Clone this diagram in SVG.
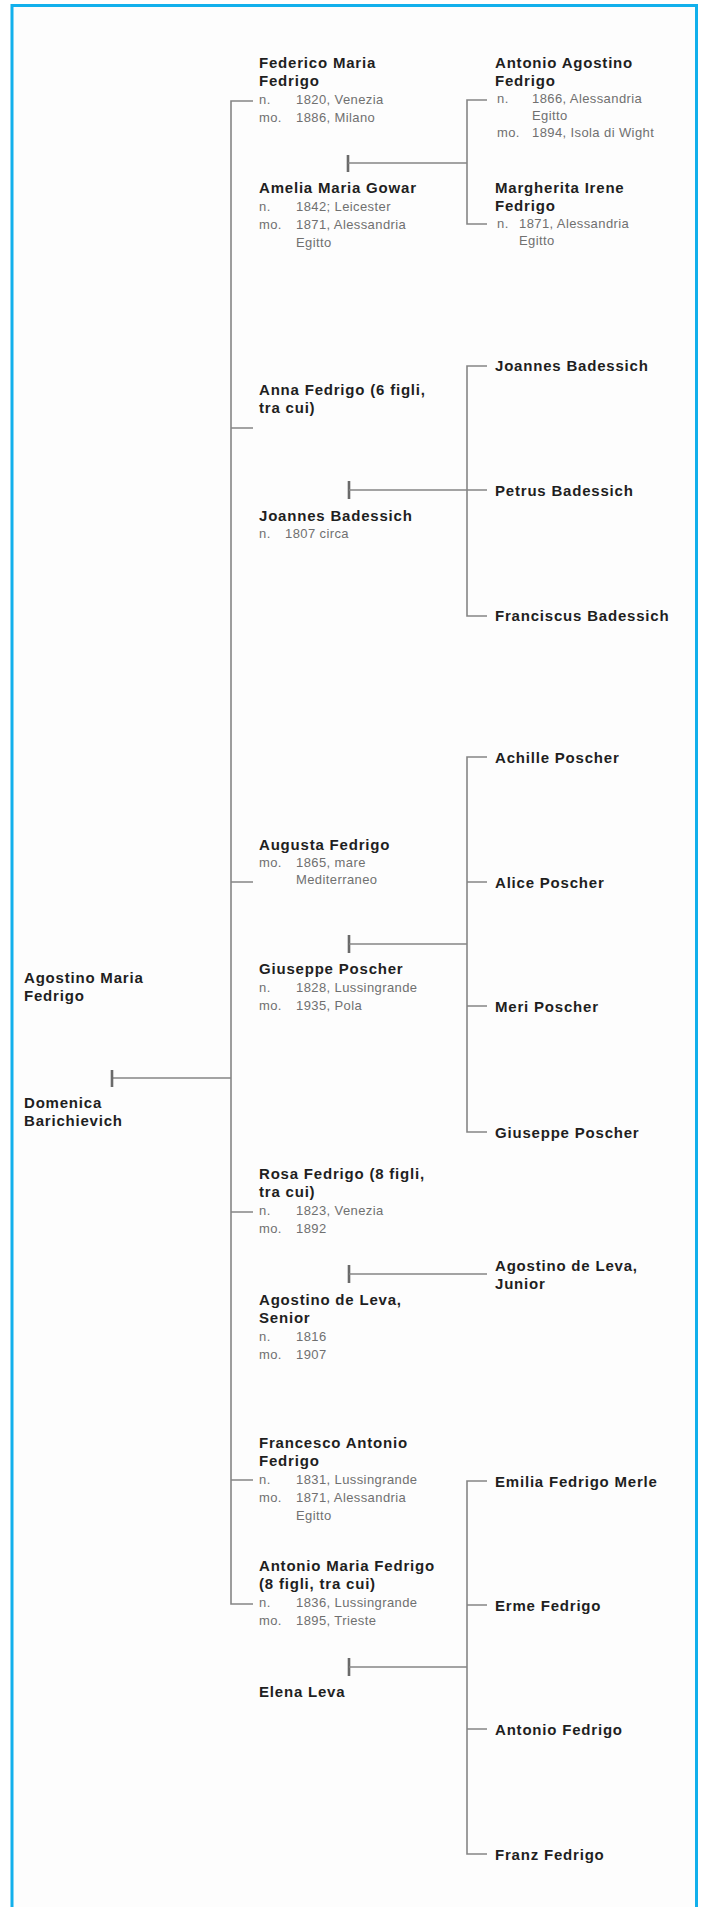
<svg xmlns="http://www.w3.org/2000/svg" width="704" height="1907" viewBox="0 0 704 1907">
<style>
.b{font-family:"Liberation Sans",Arial,sans-serif;font-weight:bold;font-size:15px;letter-spacing:0.8px;fill:#1f1f1f}
.g{font-family:"Liberation Sans",Arial,sans-serif;font-size:13px;letter-spacing:0.4px;fill:#707070}
.ln{stroke:#858585;stroke-width:1.6;fill:none}
.tk{stroke:#6a6a6a;stroke-width:2.6;fill:none}
</style>
<rect x="0" y="0" width="704" height="1907" fill="#ffffff"/>
<rect x="12" y="5.5" width="684.5" height="1960" fill="#fdfdfd" stroke="#12b0ec" stroke-width="3"/>
<g id="connectors">
<path class="ln" d="M253,101 H231 V1604 H253"/>
<path class="ln" d="M231,428 H253 M231,882 H253 M231,1212 H253 M231,1480 H253"/>
<path class="ln" d="M112,1078 H231"/>
<path class="tk" d="M112,1070 V1087"/>
<path class="tk" d="M348,155 V172"/>
<path class="ln" d="M348,163 H467"/>
<path class="ln" d="M487,100 H467 V224 H487"/>
<path class="tk" d="M349,481 V499"/>
<path class="ln" d="M349,490 H487"/>
<path class="ln" d="M487,366 H467 V616 H487"/>
<path class="tk" d="M349,935 V953"/>
<path class="ln" d="M349,944 H467"/>
<path class="ln" d="M487,757 H467 V1132 H487 M467,882 H487 M467,1006 H487"/>
<path class="tk" d="M349,1265 V1283"/>
<path class="ln" d="M349,1274 H487"/>
<path class="tk" d="M349,1658 V1676"/>
<path class="ln" d="M349,1667 H467"/>
<path class="ln" d="M487,1481 H467 V1854 H487 M467,1605 H487 M467,1729 H487"/>
</g>
<g id="agostino-maria"><text class="b" x="24" y="983">Agostino Maria</text><text class="b" x="24" y="1001">Fedrigo</text></g>
<g id="domenica"><text class="b" x="24" y="1108">Domenica</text><text class="b" x="24" y="1126">Barichievich</text></g>
<g id="federico">
<text class="b" x="259" y="68">Federico Maria</text><text class="b" x="259" y="86">Fedrigo</text>
<text class="g" x="259" y="104">n.</text><text class="g" x="296" y="104">1820, Venezia</text>
<text class="g" x="259" y="122">mo.</text><text class="g" x="296" y="122">1886, Milano</text>
</g>
<g id="amelia">
<text class="b" x="259" y="193">Amelia Maria Gowar</text>
<text class="g" x="259" y="211">n.</text><text class="g" x="296" y="211">1842; Leicester</text>
<text class="g" x="259" y="229">mo.</text><text class="g" x="296" y="229">1871, Alessandria</text>
<text class="g" x="296" y="247">Egitto</text>
</g>
<g id="antonio-agostino">
<text class="b" x="495" y="68">Antonio Agostino</text><text class="b" x="495" y="86">Fedrigo</text>
<text class="g" x="497" y="103">n.</text><text class="g" x="532" y="103">1866, Alessandria</text>
<text class="g" x="532" y="120">Egitto</text>
<text class="g" x="497" y="137">mo.</text><text class="g" x="532" y="137">1894, Isola di Wight</text>
</g>
<g id="margherita">
<text class="b" x="495" y="193">Margherita Irene</text><text class="b" x="495" y="211">Fedrigo</text>
<text class="g" x="497" y="228">n.</text><text class="g" x="519" y="228">1871, Alessandria</text>
<text class="g" x="519" y="245">Egitto</text>
</g>
<g id="anna"><text class="b" x="259" y="395">Anna Fedrigo (6 figli,</text><text class="b" x="259" y="413">tra cui)</text></g>
<g id="joannes-sr"><text class="b" x="259" y="521">Joannes Badessich</text><text class="g" x="259" y="538">n.</text><text class="g" x="285" y="538">1807 circa</text></g>
<g id="joannes-jr"><text class="b" x="495" y="371">Joannes Badessich</text></g>
<g id="petrus"><text class="b" x="495" y="496">Petrus Badessich</text></g>
<g id="franciscus"><text class="b" x="495" y="621">Franciscus Badessich</text></g>
<g id="augusta">
<text class="b" x="259" y="850">Augusta Fedrigo</text>
<text class="g" x="259" y="867">mo.</text><text class="g" x="296" y="867">1865, mare</text>
<text class="g" x="296" y="884">Mediterraneo</text>
</g>
<g id="giuseppe-sr">
<text class="b" x="259" y="974">Giuseppe Poscher</text>
<text class="g" x="259" y="992">n.</text><text class="g" x="296" y="992">1828, Lussingrande</text>
<text class="g" x="259" y="1010">mo.</text><text class="g" x="296" y="1010">1935, Pola</text>
</g>
<g id="achille"><text class="b" x="495" y="763">Achille Poscher</text></g>
<g id="alice"><text class="b" x="495" y="888">Alice Poscher</text></g>
<g id="meri"><text class="b" x="495" y="1012">Meri Poscher</text></g>
<g id="giuseppe-jr"><text class="b" x="495" y="1138">Giuseppe Poscher</text></g>
<g id="rosa">
<text class="b" x="259" y="1179">Rosa Fedrigo (8 figli,</text><text class="b" x="259" y="1197">tra cui)</text>
<text class="g" x="259" y="1215">n.</text><text class="g" x="296" y="1215">1823, Venezia</text>
<text class="g" x="259" y="1233">mo.</text><text class="g" x="296" y="1233">1892</text>
</g>
<g id="agostino-sr">
<text class="b" x="259" y="1305">Agostino de Leva,</text><text class="b" x="259" y="1323">Senior</text>
<text class="g" x="259" y="1341">n.</text><text class="g" x="296" y="1341">1816</text>
<text class="g" x="259" y="1359">mo.</text><text class="g" x="296" y="1359">1907</text>
</g>
<g id="agostino-jr"><text class="b" x="495" y="1271">Agostino de Leva,</text><text class="b" x="495" y="1289">Junior</text></g>
<g id="francesco">
<text class="b" x="259" y="1448">Francesco Antonio</text><text class="b" x="259" y="1466">Fedrigo</text>
<text class="g" x="259" y="1484">n.</text><text class="g" x="296" y="1484">1831, Lussingrande</text>
<text class="g" x="259" y="1502">mo.</text><text class="g" x="296" y="1502">1871, Alessandria</text>
<text class="g" x="296" y="1520">Egitto</text>
</g>
<g id="antonio-maria">
<text class="b" x="259" y="1571">Antonio Maria Fedrigo</text><text class="b" x="259" y="1589">(8 figli, tra cui)</text>
<text class="g" x="259" y="1607">n.</text><text class="g" x="296" y="1607">1836, Lussingrande</text>
<text class="g" x="259" y="1625">mo.</text><text class="g" x="296" y="1625">1895, Trieste</text>
</g>
<g id="elena"><text class="b" x="259" y="1697">Elena Leva</text></g>
<g id="emilia"><text class="b" x="495" y="1487">Emilia Fedrigo Merle</text></g>
<g id="erme"><text class="b" x="495" y="1611">Erme Fedrigo</text></g>
<g id="antonio"><text class="b" x="495" y="1735">Antonio Fedrigo</text></g>
<g id="franz"><text class="b" x="495" y="1860">Franz Fedrigo</text></g>
</svg>
